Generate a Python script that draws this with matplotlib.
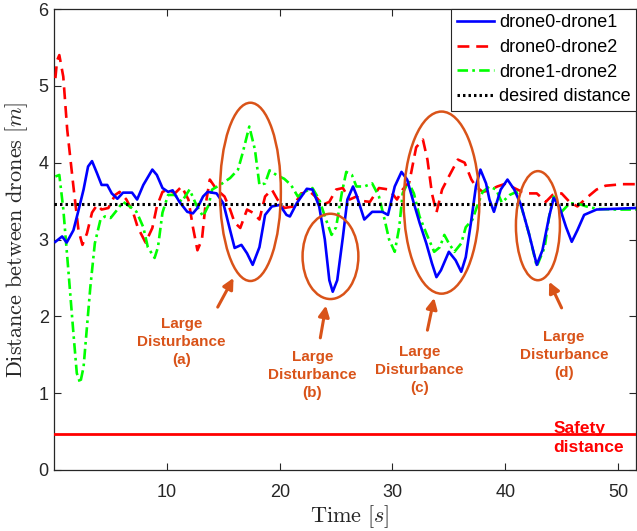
# %% load library
import numpy as np
import matplotlib.pyplot as plt
from matplotlib.patches import Ellipse

# %% data
t_01 = [0.1, 0.7, 1.1, 1.7, 2.1, 2.6, 3.0, 3.35, 3.8, 4.2, 4.7, 5.1, 5.6, 6.1, 6.9, 7.35,
        7.9, 8.7, 9.1, 9.6, 10.1, 10.5, 11.1, 11.8, 12.3, 12.7, 13.2, 13.6, 14.4, 15.0,
        15.6, 16.0, 16.6, 17.1, 17.6, 18.2, 18.7, 19.3, 20.0, 20.6, 20.9, 21.5, 22.4,
        22.9, 23.5, 24.0, 24.4, 24.7, 25.1, 25.6, 26.0, 26.5, 26.8, 27.5, 28.2, 29.1,
        29.6, 30.2, 30.8, 31.3, 31.8, 32.4, 33.0, 33.5, 33.9, 34.3, 35.0, 35.6, 36.1,
        36.5, 37.0, 37.4, 37.8, 38.3, 38.6, 39.0, 39.6, 40.2, 40.8, 41.4, 42.1, 42.8,
        43.3, 43.9, 44.3, 44.8, 45.4, 45.9, 46.4, 47.0, 48.1, 49.8, 51.6]
d_01 = [2.97, 3.04, 2.96, 3.12, 3.35, 3.65, 3.95, 4.02, 3.86, 3.71, 3.71, 3.6, 3.53, 3.61,
        3.61, 3.52, 3.71, 3.91, 3.84, 3.67, 3.62, 3.64, 3.49, 3.36, 3.34, 3.41, 3.56, 3.62,
        3.6, 3.47, 3.12, 2.89, 2.93, 2.82, 2.67, 2.9, 3.32, 3.43, 3.45, 3.32, 3.3, 3.47,
        3.66, 3.65, 3.43, 3.0, 2.47, 2.32, 2.47, 3.03, 3.52, 3.69, 3.58, 3.26, 3.36, 3.36,
        3.32, 3.69, 3.88, 3.78, 3.52, 3.22, 2.95, 2.69, 2.51, 2.6, 2.84, 2.73, 2.58, 2.77,
        3.26, 3.69, 3.91, 3.73, 3.52, 3.36, 3.65, 3.78, 3.65, 3.45, 3.08, 2.67, 2.86, 3.3,
        3.54, 3.43, 3.16, 2.97, 3.12, 3.32, 3.39, 3.40, 3.41]

t_02 = [0.1, 0.25, 0.45, 0.8, 1.15, 1.7, 2.15, 2.5, 2.9, 3.35, 3.8, 4.2, 4.8, 5.4, 5.8,
        6.4, 7.0, 7.4, 8.1, 8.7, 9.1, 9.6, 10.1, 10.7, 11.3, 11.9, 12.3, 12.7, 13.1, 13.4,
        13.8, 14.4, 15.1, 15.6, 16.0, 16.5, 17.1, 17.6, 18.2, 18.7, 19.3, 19.8, 20.4,
        21.2, 21.9, 22.7, 23.3, 23.8, 24.4, 25.0, 25.6, 26.2, 26.8, 27.4, 28.0, 28.8,
        29.7, 30.4, 30.9, 31.5, 32.1, 32.7, 33.1, 33.5, 33.9, 34.4, 35.0, 35.8, 36.4,
        37.0, 37.4, 38.0, 38.6, 39.3, 40.1, 40.8, 41.5, 42.1, 42.8, 43.6, 44.2, 45.0,
        45.7, 46.4, 47.2, 48.1, 48.9, 50.4, 51.6]
d_02 = [5.1, 5.33, 5.4, 5.12, 4.43, 3.69, 3.12, 2.93, 3.08, 3.35, 3.45, 3.39, 3.41, 3.58,
        3.62, 3.52, 3.35, 3.16, 2.96, 3.15, 3.43, 3.62, 3.65, 3.6, 3.69, 3.52, 3.16, 2.86,
        3.0, 3.43, 3.78, 3.65, 3.56, 3.39, 3.22, 3.15, 3.39, 3.35, 3.26, 3.56, 3.65, 3.52,
        3.41, 3.43, 3.6, 3.62, 3.54, 3.45, 3.49, 3.65, 3.67, 3.52, 3.56, 3.5, 3.49, 3.67,
        3.65, 3.52, 3.65, 3.75, 4.2, 4.3, 4.04, 3.6, 3.35, 3.65, 3.82, 4.04, 4.0, 3.78,
        3.69, 3.62, 3.64, 3.69, 3.73, 3.67, 3.62, 3.6, 3.6, 3.49, 3.58, 3.6, 3.49, 3.43,
        3.54, 3.65, 3.7, 3.72, 3.72]

t_12 = [0.1, 0.45, 0.8, 1.25, 1.7, 2.0, 2.3, 2.6, 2.9, 3.2, 3.6, 4.1, 4.5, 5.0, 5.6, 6.1,
        6.7, 7.3, 7.9, 8.3, 8.9, 9.2, 9.6, 10.1, 10.7, 11.3, 12.0, 12.6, 13.2, 13.7, 14.0,
        14.7, 15.6, 16.3, 16.7, 17.3, 17.8, 18.2, 18.7, 19.1, 19.7, 20.4, 21.0, 21.6,
        22.2, 22.9, 23.5, 24.1, 24.6, 25.0, 25.5, 25.9, 26.4, 26.8, 27.5, 28.2, 28.8,
        29.3, 29.7, 30.2, 30.6, 30.9, 31.4, 31.9, 32.4, 33.0, 33.7, 34.2, 34.6, 35.0,
        35.5, 36.1, 36.5, 37.1, 37.5, 38.0, 38.6, 39.2, 39.7, 40.4, 41.0, 41.5, 42.1,
        42.8, 43.5, 43.9, 44.3, 45.0, 45.7, 46.4, 47.2, 48.1, 49.8, 51.6]
d_12 = [3.82, 3.84, 3.4, 2.6, 1.78, 1.26, 1.13, 1.34, 1.86, 2.38, 2.95, 3.26, 3.3, 3.28,
        3.39, 3.49, 3.43, 3.36, 3.16, 2.9, 2.76, 2.9, 3.35, 3.58, 3.58, 3.49, 3.65, 3.45,
        3.3, 3.45, 3.65, 3.71, 3.8, 3.91, 4.12, 4.47, 4.17, 3.71, 3.73, 3.9, 3.84, 3.79,
        3.71, 3.56, 3.62, 3.67, 3.52, 3.26, 3.06, 3.16, 3.6, 3.88, 3.84, 3.69, 3.69, 3.73,
        3.56, 3.26, 3.0, 2.84, 3.16, 3.6, 3.75, 3.6, 3.3, 3.08, 2.84, 2.9, 3.06, 2.95,
        2.84, 2.95, 3.16, 3.26, 3.43, 3.62, 3.69, 3.65, 3.48, 3.58, 3.62, 3.39, 3.08, 2.65,
        2.9, 3.3, 3.56, 3.36, 3.47, 3.47, 3.43, 3.4, 3.39, 3.39]

desired_dist = 3.46
safety_dist = 0.47

# disturbance marks: ellipse center (t, d), width, height
dist_labels = ["(a)", "(b)", "(c)", "(d)"]
ell_center = [(17.4, 3.62), (24.5, 2.78), (34.35, 3.48), (42.9, 3.18)]
ell_size = [(5.4, 2.32), (4.95, 1.11), (6.7, 2.37), (3.9, 1.42)]
arrow_tail = [(14.5, 2.12), (23.6, 1.72), (33.1, 1.82), (45.0, 2.11)]
arrow_head = [(15.9, 2.5), (24.1, 2.14), (33.7, 2.24), (43.9, 2.45)]
text_pos = [(11.3, 1.67), (22.9, 1.24), (32.4, 1.30), (45.2, 1.50)]

# %% style
plt.rcParams['font.family'] = ['Liberation Sans', 'DejaVu Sans']
plt.rcParams['mathtext.fontset'] = 'cm'

DARK = '#262626'
ORANGE = '#D95319'
LW = 1.9

# %% plotting
fig = plt.figure(figsize=(6.37, 5.31), dpi=100)
ax = fig.add_axes([54.25 / 637, 61 / 531, (636 - 54.25) / 637, 461 / 531])

ax.plot(t_01, d_01, color='#0000FF', lw=LW, label='drone0-drone1', zorder=4)
ax.plot(t_02, d_02, color='#FF0000', lw=LW, dashes=(4.5, 2.6), label='drone0-drone2', zorder=3)
ax.plot(t_12, d_12, color='#00FF00', lw=LW, dashes=(4.0, 1.6, 1.0, 1.6),
        label='drone1-drone2', zorder=3.5)
ax.axhline(desired_dist, color='black', lw=2.2, dashes=(0.8, 1.0),
           label='desired distance', zorder=5)
ax.axhline(safety_dist, color='#FF0000', lw=2.0, zorder=3)

for c, s in zip(ell_center, ell_size):
    ax.add_patch(Ellipse(c, s[0], s[1], fill=False, edgecolor=ORANGE, lw=1.8, zorder=6))

for lab, tail, head, tp in zip(dist_labels, arrow_tail, arrow_head, text_pos):
    ax.annotate('', xy=head, xytext=tail,
                arrowprops=dict(arrowstyle='-|>', color=ORANGE, lw=2.2,
                                mutation_scale=16, shrinkA=0, shrinkB=0), zorder=6)
    ax.text(tp[0], tp[1], 'Large\nDisturbance\n' + lab, color=ORANGE, fontsize=11,
            fontweight='bold', ha='center', va='center', linespacing=1.35, zorder=6)

ax.text(44.3, 0.42, 'Safety\ndistance', color='#FF0000', fontsize=12.5,
        fontweight='bold', ha='left', va='center', linespacing=1.3, zorder=6)

ax.set_xlim(0, 51.6)
ax.set_ylim(0, 6)
ax.set_xticks([10, 20, 30, 40, 50])
ax.set_yticks([0, 1, 2, 3, 4, 5, 6])
ax.tick_params(direction='in', length=5, width=0.8, colors=DARK, labelsize=13,
               top=True, right=True)
ax.tick_params(axis='x', pad=10)
ax.tick_params(axis='y', pad=4)
for sp in ax.spines.values():
    sp.set_color(DARK)
    sp.set_linewidth(0.9)

ax.set_xlabel(r'$\mathrm{Time}\ [s]$', fontsize=16, color=DARK)
ax.set_ylabel(r'$\mathrm{Distance\ between\ drones}\ [m]$', fontsize=16, color=DARK)
ax.xaxis.set_label_coords(0.507, -0.072)
ax.yaxis.set_label_coords(-0.042, 0.5)

leg = ax.legend(loc='upper right', fontsize=13, borderaxespad=0, fancybox=False,
                framealpha=1, edgecolor=DARK, handlelength=2.1, handletextpad=0.25,
                labelspacing=0.42, borderpad=0.3)
leg.get_frame().set_linewidth(0.8)
leg.set_zorder(10)

fig.savefig('out.png', dpi=100)
